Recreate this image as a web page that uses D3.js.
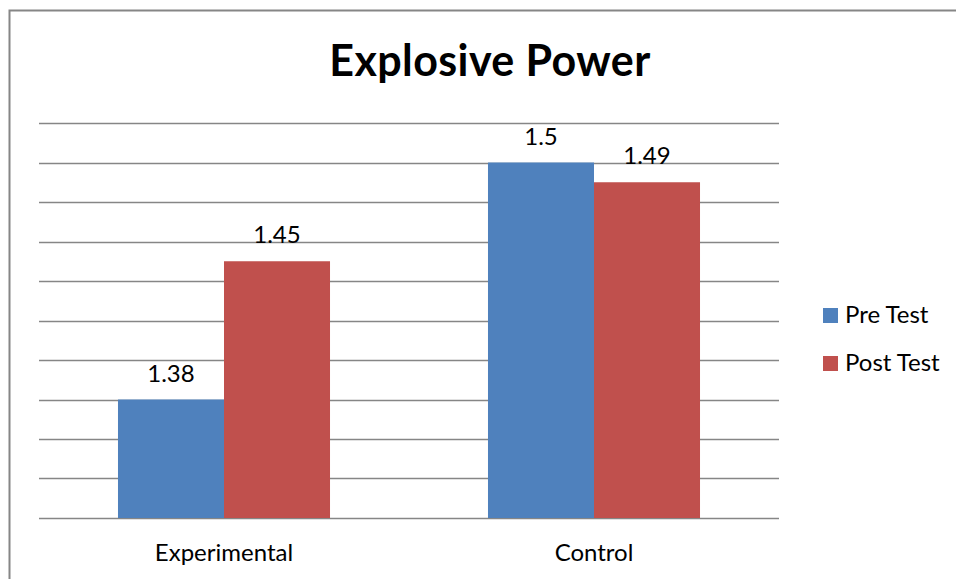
<!DOCTYPE html>
<html>
<head>
<meta charset="utf-8">
<script src="https://cdn.jsdelivr.net/npm/d3@7"></script>
<style>
  body { margin: 0; background: #fff; }
  text { font-family: Lato, "Open Sans", sans-serif; fill: #000; }
</style>
</head>
<body>
<div id="chart"></div>
<script>
// data
const groups = ['Experimental', 'Control'];
const seriesNames = ['Pre Test', 'Post Test'];
const preTest = [1.38, 1.5];
const postTest = [1.45, 1.49];
const yTicks = [1.32, 1.34, 1.36, 1.38, 1.40, 1.42, 1.44, 1.46, 1.48, 1.50, 1.52];

const colors = ['#4f81bd', '#c0504d'];

const width = 956, height = 579;
const plot = {left: 39, right: 779, top: 123, bottom: 518};

const svg = d3.select('#chart').append('svg')
  .attr('width', width)
  .attr('height', height);

// outer border
svg.append('rect')
  .attr('x', 9.5).attr('y', 10.5)
  .attr('width', width).attr('height', height)
  .attr('fill', 'none')
  .attr('stroke', '#868686')
  .attr('stroke-width', 2);

const x0 = d3.scaleBand()
  .domain(groups)
  .range([plot.left, plot.right]);

const x1 = d3.scaleBand()
  .domain(seriesNames)
  .range([0, x0.bandwidth()])
  .paddingOuter(0.745);

const y = d3.scaleLinear()
  .domain([1.32, 1.52])
  .range([plot.bottom, plot.top]);

// gridlines
svg.append('g')
  .selectAll('line')
  .data(yTicks)
  .join('line')
  .attr('x1', plot.left).attr('x2', plot.right)
  .attr('y1', d => Math.round(y(d)) + 0.5)
  .attr('y2', d => Math.round(y(d)) + 0.5)
  .attr('stroke', '#868686')
  .attr('stroke-width', 1.5);

const rows = groups.map((g, i) => ({group: g, values: [preTest[i], postTest[i]]}));

const grp = svg.append('g')
  .selectAll('g')
  .data(rows)
  .join('g')
  .attr('transform', d => `translate(${x0(d.group)},0)`);

grp.selectAll('rect')
  .data(d => d.values.map((v, i) => ({name: seriesNames[i], value: v, i})))
  .join('rect')
  .attr('x', d => x1(d.name))
  .attr('width', x1.bandwidth())
  .attr('y', d => y(d.value))
  .attr('height', d => plot.bottom - y(d.value))
  .attr('fill', d => colors[d.i]);

grp.selectAll('text')
  .data(d => d.values.map((v, i) => ({name: seriesNames[i], value: v, i})))
  .join('text')
  .attr('x', d => x1(d.name) + x1.bandwidth() / 2)
  .attr('y', d => y(d.value) - 18)
  .attr('text-anchor', 'middle')
  .attr('font-size', 24)
  .text(d => d.value);

// category labels
svg.append('g')
  .selectAll('text')
  .data(groups)
  .join('text')
  .attr('x', d => x0(d) + x0.bandwidth() / 2)
  .attr('y', 561)
  .attr('text-anchor', 'middle')
  .attr('font-size', 24)
  .text(d => d);

// title
svg.append('text')
  .attr('x', 490)
  .attr('y', 76)
  .attr('text-anchor', 'middle')
  .attr('font-size', 43)
  .attr('font-weight', 'bold')
  .attr('letter-spacing', 0.4)
  .text('Explosive Power');

// legend
const legend = svg.append('g')
  .selectAll('g')
  .data(seriesNames)
  .join('g')
  .attr('transform', (d, i) => `translate(823, ${308 + i * 48})`);

legend.append('rect')
  .attr('width', 15).attr('height', 15)
  .attr('fill', (d, i) => colors[i]);

legend.append('text')
  .attr('x', 22)
  .attr('y', 15)
  .attr('font-size', 24)
  .text(d => d);
</script>
</body>
</html>
